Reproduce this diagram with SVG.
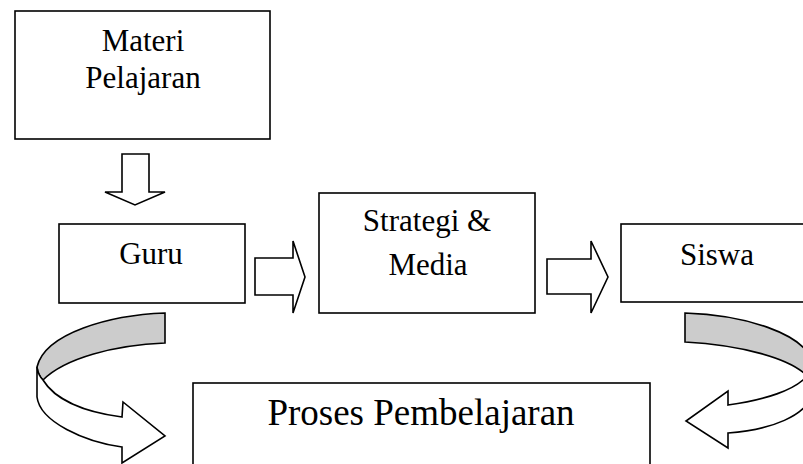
<svg xmlns="http://www.w3.org/2000/svg" width="803" height="464" viewBox="0 0 803 464">
<style>
.box{fill:#fff;stroke:#000;stroke-width:1.6}
.arr{fill:#fff;stroke:#000;stroke-width:1.6;stroke-linejoin:miter}
.gray{fill:#cccccc;stroke:#000;stroke-width:1.6}
.t{font-family:"Liberation Serif","Times New Roman",serif;font-size:31px;fill:#000;text-anchor:middle}
.tb{font-family:"Liberation Serif","Times New Roman",serif;font-size:37px;fill:#000;text-anchor:middle}
</style>
<rect width="803" height="464" fill="#fff"/>
<g id="materi">
<rect class="box" x="15" y="11" width="255" height="128"/>
<text class="t" x="143" y="51">Materi</text>
<text class="t" x="143" y="88">Pelajaran</text>
</g>
<g id="guru">
<rect class="box" x="59" y="224" width="186" height="79"/>
<text class="t" x="151" y="264">Guru</text>
</g>
<g id="strategi">
<rect class="box" x="319" y="193" width="216" height="120"/>
<text class="t" x="427" y="231">Strategi &amp;</text>
<text class="t" x="428" y="275">Media</text>
</g>
<g id="siswa">
<rect class="box" x="621" y="224" width="190" height="78"/>
<text class="t" x="717" y="265">Siswa</text>
</g>
<g id="proses">
<rect class="box" x="193" y="383" width="457" height="90"/>
<text class="tb" x="421" y="425">Proses Pembelajaran</text>
</g>
<g id="connectors">
<polygon class="arr" points="122,154 149,154 149,192 165,192 135,205 105,192 122,192"/>
<polygon class="arr" points="255,258 293,258 293,241 305,277 293,313 293,295 255,295"/>
<polygon class="arr" points="547,259 591,259 591,241 608,277 591,313 591,294 547,294"/>
<path class="gray" d="M165,313 C110,315 45,333 37,367 Q38,375 43,380 C65,358 115,345 165,343 Z"/>
<path class="arr" d="M37,367 L37,397 C40,422 85,442 122,447 L122,463 L165,436 L123,402 L122,417 C85,412 55,400 43,380 Q38,375 37,367 Z"/>
<path class="gray" d="M685,313 C745,315 803,333 813,362 Q812,370 807,376 C790,358 740,345 685,342 Z"/>
<path class="arr" d="M813,362 L813,392 C808,416 770,430 728,433 L728,448 L686,421 L728,391 L728,405 C765,400 795,390 807,376 Q812,370 813,362 Z"/>
</g>
</svg>
